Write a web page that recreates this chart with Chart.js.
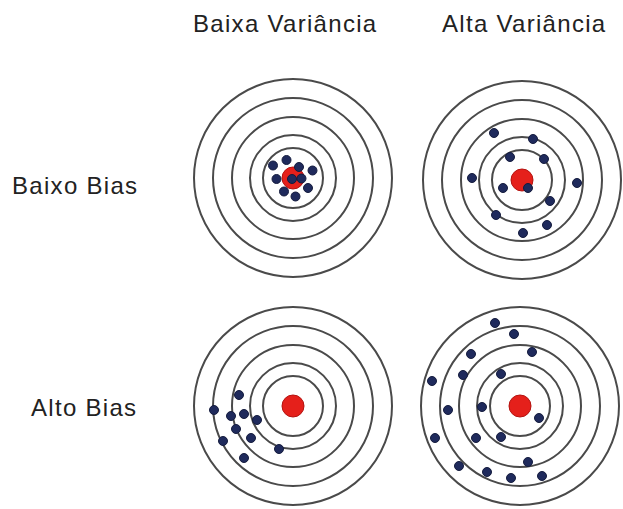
<!DOCTYPE html>
<html>
<head>
<meta charset="utf-8">
<script src="https://cdn.jsdelivr.net/npm/chart.js@4.4.1/dist/chart.umd.min.js"></script>
<style>
  html, body { margin: 0; padding: 0; background: #fff; }
  body { width: 623px; height: 509px; position: relative; overflow: hidden; }
  .label {
    position: absolute;
    font-family: "Liberation Sans", Arial, sans-serif;
    font-size: 24px;
    letter-spacing: 1.3px;
    color: #222;
    white-space: nowrap;
    line-height: 1;
  }
  .target { position: absolute; width: 200px; height: 200px; }
</style>
</head>
<body>
<div class="label" style="left:193px; top:12px;">Baixa Variância</div>
<div class="label" style="left:442px; top:12px;">Alta Variância</div>
<div class="label" style="left:12px; top:174px;">Baixo Bias</div>
<div class="label" style="left:31px; top:396px;">Alto Bias</div>

<div class="target" style="left:193px; top:78px;"><canvas id="t1" width="200" height="200"></canvas></div>
<div class="target" style="left:422px; top:80px;"><canvas id="t2" width="200" height="200"></canvas></div>
<div class="target" style="left:193px; top:306px;"><canvas id="t3" width="200" height="200"></canvas></div>
<div class="target" style="left:420px; top:306px;"><canvas id="t4" width="200" height="200"></canvas></div>

<script>
// ring radii of each target, in target units (1 unit ~ 1px)
const ringRadii = [99, 80, 61, 43, 30];
const bullseye = [{ x: 0, y: 0 }];

// shots, offsets from the bullseye (y grows downward)
const lowBiasLowVar = [
  [-20, -12.5], [-6.5, -18], [6, -11], [19.5, -7.5], [-16.5, 1], [8.5, 0.5],
  [-1, 1], [15, 10], [-9, 13.5], [2.5, 18.5]
];
const lowBiasHighVar = [
  [-28, -47], [11, -41], [-12, -23], [22, -21], [-50, -2], [-19, 8],
  [6, 8], [55, 3], [28, 21], [-26, 35], [25, 45], [1, 53]
];
const highBiasLowVar = [
  [-54, -11], [-79, 4], [-62, 10], [-49, 8], [-36, 14], [-57, 23],
  [-70, 35], [-42, 32], [-14, 43], [-49, 52]
];
const highBiasHighVar = [
  [-25, -83], [-6, -72], [-49, -52], [12, -54], [-88, -25], [-57, -31],
  [-19, -32], [-72, 4], [-38, 1], [19, 12], [-85, 32], [-44, 32],
  [-19, 31], [8, 56], [-61, 60], [-33, 66], [-9, 72], [22, 70]
];

const ringColor = '#4a4a4a';
const shotColor = '#1f2a5c';
const bullColor = '#e5201b';

const ringsPlugin = {
  id: 'rings',
  beforeDatasetsDraw(chart) {
    const { ctx, scales: { x, y } } = chart;
    const cx = x.getPixelForValue(0);
    const cy = y.getPixelForValue(0);
    ctx.save();
    ctx.strokeStyle = ringColor;
    ctx.lineWidth = 2;
    ringRadii.forEach(r => {
      const pr = Math.abs(x.getPixelForValue(r) - cx);
      ctx.beginPath();
      ctx.arc(cx, cy, pr, 0, Math.PI * 2);
      ctx.stroke();
    });
    ctx.restore();
  }
};

function drawTarget(id, shots) {
  new Chart(document.getElementById(id), {
    type: 'scatter',
    data: {
      datasets: [
        {
          data: shots.map(([x, y]) => ({ x, y })),
          backgroundColor: shotColor,
          borderColor: '#141b3d',
          borderWidth: 1,
          pointRadius: 4.5,
          order: 1
        },
        {
          data: bullseye,
          backgroundColor: bullColor,
          borderColor: '#b3120f',
          borderWidth: 1,
          pointRadius: 11,
          order: 2
        }
      ]
    },
    options: {
      responsive: false,
      animation: false,
      devicePixelRatio: 1,
      layout: { padding: 0, autoPadding: false },
      plugins: { legend: { display: false }, tooltip: { enabled: false } },
      scales: {
        x: { display: false, min: -100, max: 100 },
        y: { display: false, min: -100, max: 100, reverse: true }
      }
    },
    plugins: [ringsPlugin]
  });
}

drawTarget('t1', lowBiasLowVar);
drawTarget('t2', lowBiasHighVar);
drawTarget('t3', highBiasLowVar);
drawTarget('t4', highBiasHighVar);
</script>
</body>
</html>
